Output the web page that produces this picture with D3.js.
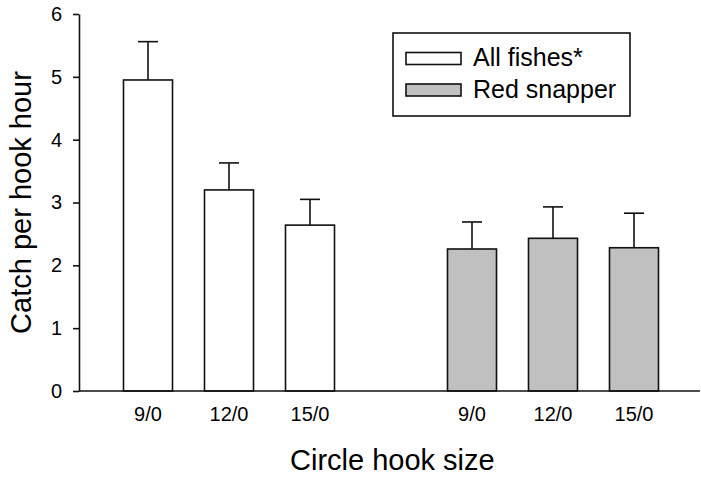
<!DOCTYPE html>
<html>
<head>
<meta charset="utf-8">
<script src="https://cdn.jsdelivr.net/npm/d3@7"></script>
<style>
  html, body { margin: 0; padding: 0; background: #fff; }
  svg { display: block; font-family: "Liberation Sans", Arial, sans-serif; }
</style>
</head>
<body>
<svg id="chart" width="701" height="478"></svg>
<script>
// ---- data ----
const categories = ["9/0", "12/0", "15/0"];
const seriesNames = ["All fishes*", "Red snapper"];
const allFishesMean = [4.95, 3.20, 2.64];
const allFishesSE   = [0.61, 0.43, 0.41];
const redSnapperMean = [2.26, 2.43, 2.28];
const redSnapperSE   = [0.43, 0.50, 0.55];
const yTicks = [0, 1, 2, 3, 4, 5, 6];

// ---- build rows ----
const seriesFill = { "All fishes*": "#ffffff", "Red snapper": "#c0c0c0" };
const rows = [];
categories.forEach((c, i) => rows.push({ key: "A-" + c, label: c, series: seriesNames[0], mean: allFishesMean[i], se: allFishesSE[i] }));
const slots = rows.map(r => r.key).concat(["gap"]);
categories.forEach((c, i) => rows.push({ key: "R-" + c, label: c, series: seriesNames[1], mean: redSnapperMean[i], se: redSnapperSE[i] }));
slots.push(...rows.slice(3).map(r => r.key));

const svg = d3.select("#chart");
const axisX0 = 79, axisX1 = 700, yTop = 14, yBottom = 391;

const x = d3.scaleBand().domain(slots).range([107.5, 674.5]).paddingInner(0.395).paddingOuter(0.1975);
const y = d3.scaleLinear().domain([0, 6]).range([yBottom, yTop]);

const ink = "#111";

// bars
const g = svg.append("g");
g.selectAll("rect.bar").data(rows).join("rect")
  .attr("class", "bar")
  .attr("x", d => x(d.key))
  .attr("width", x.bandwidth())
  .attr("y", d => y(d.mean))
  .attr("height", d => y(0) - y(d.mean))
  .attr("fill", d => seriesFill[d.series])
  .attr("stroke", ink).attr("stroke-width", 1.6);

// error bars (upper only)
const capHalf = 10;
g.selectAll("line.err").data(rows).join("line")
  .attr("x1", d => x(d.key) + x.bandwidth() / 2)
  .attr("x2", d => x(d.key) + x.bandwidth() / 2)
  .attr("y1", d => y(d.mean))
  .attr("y2", d => y(d.mean + d.se))
  .attr("stroke", ink).attr("stroke-width", 1.6);
g.selectAll("line.cap").data(rows).join("line")
  .attr("x1", d => x(d.key) + x.bandwidth() / 2 - capHalf)
  .attr("x2", d => x(d.key) + x.bandwidth() / 2 + capHalf)
  .attr("y1", d => y(d.mean + d.se))
  .attr("y2", d => y(d.mean + d.se))
  .attr("stroke", ink).attr("stroke-width", 1.6);

// y axis
const yAxis = d3.axisLeft(y).tickValues(yTicks).tickFormat(d3.format("d")).tickSize(6).tickPadding(11).tickSizeOuter(0);
const ya = svg.append("g").attr("transform", `translate(${axisX0},0)`).call(yAxis);
ya.select(".domain").attr("stroke", ink).attr("stroke-width", 1.6);
ya.selectAll(".tick line").attr("stroke", ink).attr("stroke-width", 1.6);
ya.selectAll(".tick text").attr("font-size", 20).attr("fill", "#000").attr("font-family", "Liberation Sans, Arial, sans-serif");

// x axis baseline
svg.append("line").attr("x1", axisX0).attr("x2", axisX1).attr("y1", y(0)).attr("y2", y(0))
  .attr("stroke", ink).attr("stroke-width", 1.6);

// x tick labels
svg.selectAll("text.xl").data(rows).join("text")
  .attr("x", d => x(d.key) + x.bandwidth() / 2)
  .attr("y", y(0) + 30)
  .attr("text-anchor", "middle")
  .attr("font-size", 20)
  .text(d => d.label);

// axis titles
svg.append("text").attr("x", 290).attr("y", 470).attr("font-size", 29).text("Circle hook size");
svg.append("text").attr("transform", `translate(31,${(yTop + yBottom) / 2}) rotate(-90)`)
  .attr("text-anchor", "middle").attr("font-size", 29).text("Catch per hook hour");

// legend
const lg = svg.append("g");
lg.append("rect").attr("x", 393).attr("y", 33).attr("width", 237).attr("height", 83)
  .attr("fill", "#fff").attr("stroke", ink).attr("stroke-width", 1.6);
seriesNames.forEach((s, i) => {
  lg.append("rect").attr("x", 406).attr("y", 52.5 + i * 31.5).attr("width", 55).attr("height", 12)
    .attr("fill", seriesFill[s]).attr("stroke", ink).attr("stroke-width", 1.6);
  lg.append("text").attr("x", 473).attr("y", 66 + i * 31.5).attr("font-size", 25).text(s);
});
</script>
</body>
</html>
